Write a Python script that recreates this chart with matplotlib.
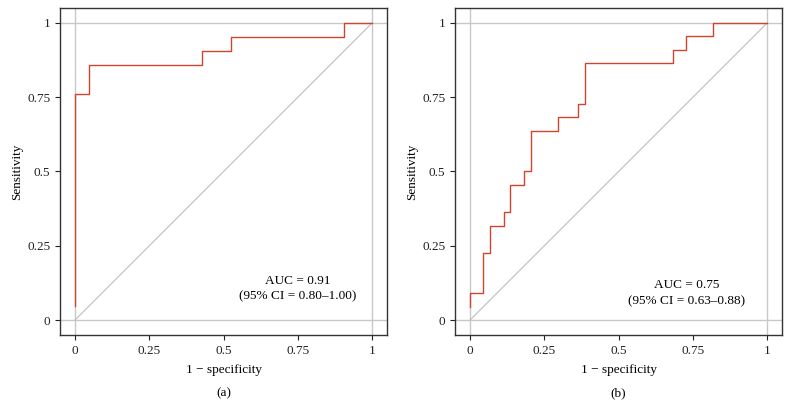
import matplotlib
matplotlib.use('Agg')
import matplotlib.pyplot as plt

plt.rcParams.update({
    'font.family': ['Liberation Serif', 'DejaVu Serif'],
    'font.size': 9.5,
    'axes.linewidth': 1.0,
    'axes.edgecolor': '#333333',
    'xtick.major.size': 3.5,
    'ytick.major.size': 3.5,
    'xtick.major.width': 0.8,
    'ytick.major.width': 0.8,
})

# ROC curve (a): 21 positives / 21 negatives
fpr_a = [0, 0, 0.048, 0.048, 0.429, 0.429, 0.524, 0.524, 0.905, 0.905, 1.0]
tpr_a = [0.048, 0.762, 0.762, 0.857, 0.857, 0.905, 0.905, 0.952, 0.952, 1.0, 1.0]

# ROC curve (b): 22 positives / 44 negatives
fpr_b = [0, 0, 0.045, 0.045, 0.068, 0.068, 0.114, 0.114, 0.136, 0.136,
         0.182, 0.182, 0.204, 0.204, 0.295, 0.295, 0.364, 0.364, 0.386, 0.386,
         0.682, 0.682, 0.727, 0.727, 0.818, 0.818, 1.0]
tpr_b = [0.045, 0.091, 0.091, 0.227, 0.227, 0.318, 0.318, 0.364, 0.364, 0.455,
         0.455, 0.5, 0.5, 0.636, 0.636, 0.682, 0.682, 0.727, 0.727, 0.864,
         0.864, 0.909, 0.909, 0.955, 0.955, 1.0, 1.0]

ticks = [0, 0.25, 0.5, 0.75, 1]
tick_labels = ['0', '0.25', '0.5', '0.75', '1']

panels = [
    (fpr_a, tpr_a, 'AUC = 0.91\n(95% CI = 0.80\u20131.00)', (0.75, 0.106), '(a)'),
    (fpr_b, tpr_b, 'AUC = 0.75\n(95% CI = 0.63\u20130.88)', (0.73, 0.091), '(b)'),
]

fig = plt.figure(figsize=(7.9, 4.2), dpi=100)
lefts = [0.076, 0.576]

for left, (fpr, tpr, txt, txt_pos, tag) in zip(lefts, panels):
    ax = fig.add_axes([left, 0.2024, 0.414, 0.7786])
    ax.set_xlim(-0.05, 1.05)
    ax.set_ylim(-0.05, 1.05)

    # reference lines at 0 and 1
    for v in (0, 1):
        ax.axvline(v, color='#c8c8c8', lw=1.0, zorder=1)
        ax.axhline(v, color='#c8c8c8', lw=1.0, zorder=1)
    ax.plot([0, 1], [0, 1], color='#bdbdbd', lw=0.8, zorder=2)
    ax.plot(fpr, tpr, color='#d0452f', lw=1.0, zorder=3)

    ax.set_xticks(ticks)
    ax.set_xticklabels(tick_labels)
    ax.set_yticks(ticks)
    ax.set_yticklabels(tick_labels)
    ax.tick_params(colors='#222222', labelsize=9.5)

    ax.text(txt_pos[0], txt_pos[1], txt, ha='center', va='center',
            fontsize=9.5, linespacing=1.45)
    ax.set_xlabel('1 \u2212 specificity', fontsize=9.5, labelpad=5)
    ax.set_ylabel('Sensitivity', fontsize=9.5, labelpad=3)
    ax.text(0.5, -0.177, tag, transform=ax.transAxes, ha='center',
            va='center', fontsize=9.5)

fig.savefig('out.png', dpi=100)
